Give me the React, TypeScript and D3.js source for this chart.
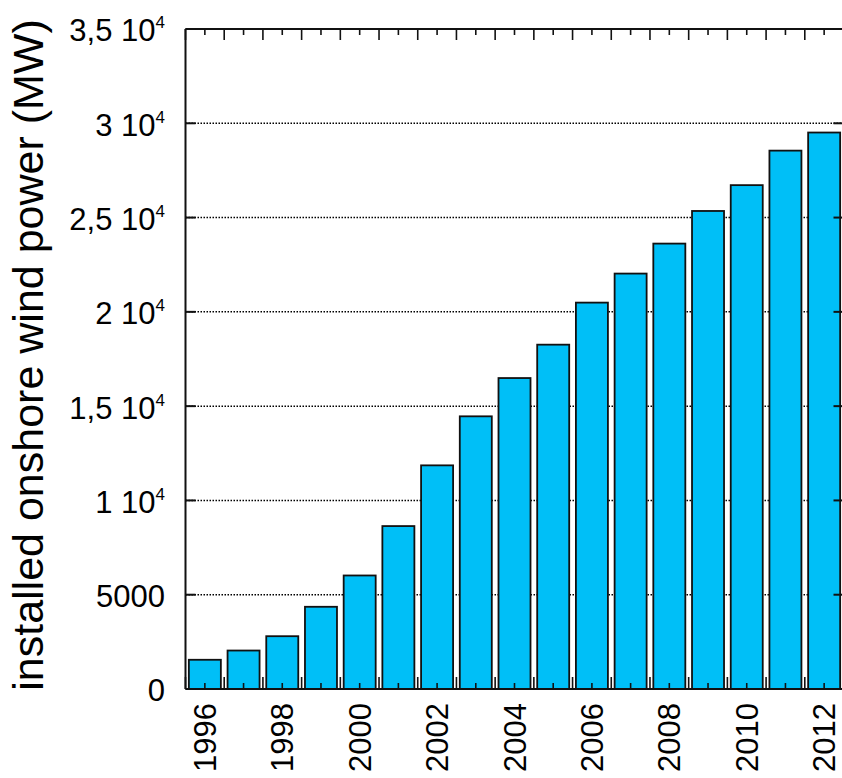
import React from "react";
import * as d3 from "d3";

// Installed onshore wind power per year (MW)
const years = [1996, 1997, 1998, 1999, 2000, 2001, 2002, 2003, 2004, 2005, 2006, 2007, 2008, 2009, 2010, 2011, 2012];
const capacityMW = [1550, 2040, 2800, 4360, 6020, 8640, 11860, 14460, 16490, 18260, 20490, 22030, 23620, 25350, 26720, 28550, 29510];

// Y axis ticks, written as mantissa + power of ten
const yTicks = [0, 5000, 10000, 15000, 20000, 25000, 30000, 35000];
const yTickBase = ["0", "5000", "1 10", "1,5 10", "2 10", "2,5 10", "3 10", "3,5 10"];
const yTickExp = ["", "", "4", "4", "4", "4", "4", "4"];

// Years that carry a label on the x axis
const xLabelYears = [1996, 1998, 2000, 2002, 2004, 2006, 2008, 2010, 2012];

const yTitle = "installed onshore wind power (MW)";

const W = 842;
const H = 778;
const plot = { left: 185.5, right: 843.5, top: 29, bottom: 689 };
const FONT = "'Liberation Sans', Arial, sans-serif";
const BAR_FILL = "#00bff7";
const INK = "#111";

export default function App() {
  const x = d3
    .scaleBand<number>()
    .domain(years)
    .range([plot.left, plot.right])
    .paddingInner(0.173)
    .paddingOuter(0.0865);
  const y = d3.scaleLinear().domain([0, 35000]).range([plot.bottom, plot.top]);

  const step = x.step();
  const bw = x.bandwidth();
  const boundaries = years.map((yr) => (x(yr) as number) - (step - bw) / 2);
  boundaries.push(plot.right);
  const centers = years.map((yr) => (x(yr) as number) + bw / 2);

  return (
    <svg
      width={W}
      height={H}
      style={{ position: "absolute", left: 0, top: 0, background: "#fff" }}
      fontFamily={FONT}
    >
      {/* dotted horizontal gridlines */}
      <g>
        {yTicks
          .filter((t) => t > 0 && t < 35000)
          .map((t) => (
            <line
              key={t}
              x1={plot.left}
              x2={plot.right}
              y1={y(t)}
              y2={y(t)}
              stroke="#000"
              strokeWidth={1.5}
              strokeDasharray="1.5,1.5"
            />
          ))}
      </g>

      {/* bars */}
      <g>
        {years.map((yr, i) => (
          <rect
            key={yr}
            x={x(yr)}
            y={y(capacityMW[i])}
            width={bw}
            height={y(0) - y(capacityMW[i])}
            fill={BAR_FILL}
            stroke={INK}
            strokeWidth={1.8}
          />
        ))}
      </g>

      {/* frame */}
      <g stroke={INK} strokeWidth={2} fill="none">
        <line x1={plot.left} x2={plot.left} y1={plot.top} y2={plot.bottom} />
        <line x1={plot.right} x2={plot.right} y1={plot.top} y2={plot.bottom} />
        <line x1={plot.left} x2={plot.right} y1={plot.top} y2={plot.top} />
        <line x1={plot.left} x2={plot.right} y1={plot.bottom} y2={plot.bottom} />
      </g>

      {/* y ticks, inward on both sides */}
      <g stroke={INK} strokeWidth={2}>
        {yTicks.map((t) => (
          <g key={t}>
            <line x1={plot.left} x2={plot.left + 10} y1={y(t)} y2={y(t)} />
            <line x1={plot.right - 10} x2={plot.right} y1={y(t)} y2={y(t)} />
          </g>
        ))}
      </g>

      {/* x ticks: long at band edges, short at band centres */}
      <g stroke={INK} strokeWidth={1.6}>
        {boundaries.map((bx, i) => (
          <g key={"b" + i}>
            <line x1={bx} x2={bx} y1={plot.bottom} y2={plot.bottom - 12} />
            <line x1={bx} x2={bx} y1={plot.top} y2={plot.top + 11} />
          </g>
        ))}
        {centers.map((cx, i) => (
          <g key={"c" + i}>
            <line x1={cx} x2={cx} y1={plot.bottom} y2={plot.bottom - 6} />
            <line x1={cx} x2={cx} y1={plot.top} y2={plot.top + 6} />
          </g>
        ))}
      </g>

      {/* y tick labels */}
      <g fill="#000" fontSize={31} textAnchor="end">
        {yTicks.map((t, i) => (
          <text key={t} x={165} y={y(t)} dy="0.4em">
            <tspan>{yTickBase[i]}</tspan>
            {yTickExp[i] ? (
              <tspan dy={-13} fontSize={17}>
                {yTickExp[i]}
              </tspan>
            ) : null}
          </text>
        ))}
      </g>

      {/* x tick labels, rotated */}
      <g fill="#000" fontSize={31} textAnchor="end">
        {xLabelYears.map((yr) => {
          const cx = (x(yr) as number) + bw / 2;
          return (
            <text key={yr} transform={`translate(${cx},${703}) rotate(-90)`} dy="0.36em">
              {yr}
            </text>
          );
        })}
      </g>

      {/* y axis title */}
      <text
        transform={`translate(43,355) rotate(-90)`}
        textAnchor="middle"
        fontSize={43}
        fill="#000"
      >
        {yTitle}
      </text>
    </svg>
  );
}
